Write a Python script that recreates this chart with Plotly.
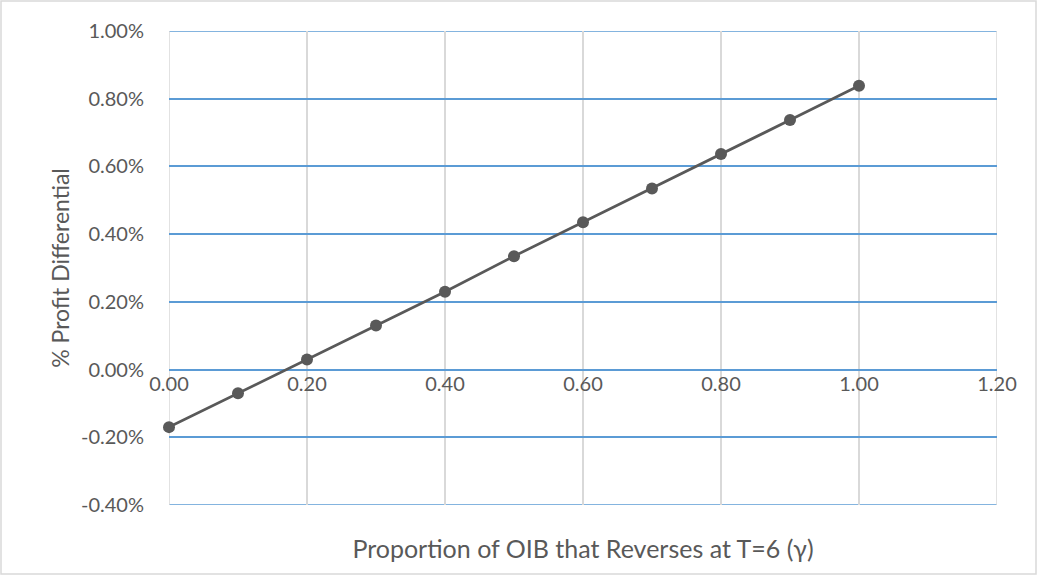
import plotly.graph_objects as go

gamma = [0.0, 0.1, 0.2, 0.3, 0.4, 0.5, 0.6, 0.7, 0.8, 0.9, 1.0]
profit_diff = [-0.0017, -0.0007, 0.0003, 0.0013, 0.0023, 0.00335, 0.00435, 0.00535, 0.00637, 0.00737, 0.00838]

x_ticks = [0.0, 0.2, 0.4, 0.6, 0.8, 1.0, 1.2]
y_ticks = [-0.004, -0.002, 0.0, 0.002, 0.004, 0.006, 0.008, 0.010]

W, H = 1037, 575
ML, MR, MT, MB = 169, 40, 31, 70
PW, PH = W - ML - MR, H - MT - MB

FONT = "Lato, Calibri, sans-serif"
TXT = "#595959"
BLUE = "#5B9BD5"
GRAY = "#D9D9D9"

fig = go.Figure()
fig.add_trace(go.Scatter(
    x=gamma, y=profit_diff, mode="lines+markers",
    line=dict(color="#595959", width=2.75),
    marker=dict(color="#595959", size=12),
    showlegend=False, cliponaxis=False,
))
# invisible trace on the crossing axis for tick labels
fig.add_trace(go.Scatter(x=[x_ticks[0], x_ticks[-1]], y=[0, 0], xaxis="x2", mode="markers",
                         marker=dict(opacity=0), showlegend=False, hoverinfo="skip"))

y0frac = (0 - y_ticks[0]) / (y_ticks[-1] - y_ticks[0])

fig.update_layout(
    width=W, height=H,
    margin=dict(l=ML, r=MR, t=MT, b=MB),
    paper_bgcolor="white", plot_bgcolor="white",
    font=dict(family=FONT, color=TXT, size=20),
    xaxis=dict(
        range=[x_ticks[0], x_ticks[-1]], tickvals=x_ticks, showticklabels=False,
        showgrid=True, gridcolor=GRAY, gridwidth=1.5, zeroline=False,
        showline=False, ticks="",
        title=dict(text="Proportion of OIB that Reverses at T=6 (γ)",
                   font=dict(size=25, color=TXT), standoff=35),
    ),
    xaxis2=dict(
        range=[x_ticks[0], x_ticks[-1]], tickvals=x_ticks,
        ticktext=[f"{v:.2f}" for v in x_ticks],
        overlaying="x", anchor="free", position=y0frac, side="bottom",
        showgrid=False, zeroline=False, showline=False, ticks="",
        tickfont=dict(size=20, color=TXT),
    ),
    yaxis=dict(
        range=[y_ticks[0], y_ticks[-1]], tickvals=y_ticks,
        ticktext=[f"{v*100:.2f}%" for v in y_ticks],
        showgrid=True, gridcolor=BLUE, gridwidth=1.5,
        zeroline=True, zerolinecolor=BLUE, zerolinewidth=1.5,
        showline=False, ticks="outside", ticklen=20, tickcolor="rgba(0,0,0,0)",
        tickfont=dict(size=20, color=TXT),
        title=dict(text="% Profit Differential", font=dict(size=23, color=TXT), standoff=4),
    ),
)

# edge gridlines (top/bottom blue, left/right gray)
for yv in (y_ticks[0], y_ticks[-1]):
    fig.add_shape(type="line", xref="paper", yref="y", x0=0, x1=1, y0=yv, y1=yv,
                  line=dict(color=BLUE, width=1.5), layer="below")
for xv in (x_ticks[0], x_ticks[-1]):
    fig.add_shape(type="line", xref="x", yref="paper", x0=xv, x1=xv, y0=0, y1=1,
                  line=dict(color=GRAY, width=1.5), layer="below")

# outer chart border
fig.add_shape(type="rect", xref="paper", yref="paper",
              x0=(1 - ML) / PW, x1=(W - 1 - ML) / PW,
              y0=-(H - 1 - MT - PH) / PH, y1=1 + (MT - 1) / PH,
              line=dict(color=GRAY, width=1.5), fillcolor="rgba(0,0,0,0)")

fig.write_html("out.html", config={"displayModeBar": False},
               post_script="document.body.style.margin='0px';document.body.style.padding='0px';")
